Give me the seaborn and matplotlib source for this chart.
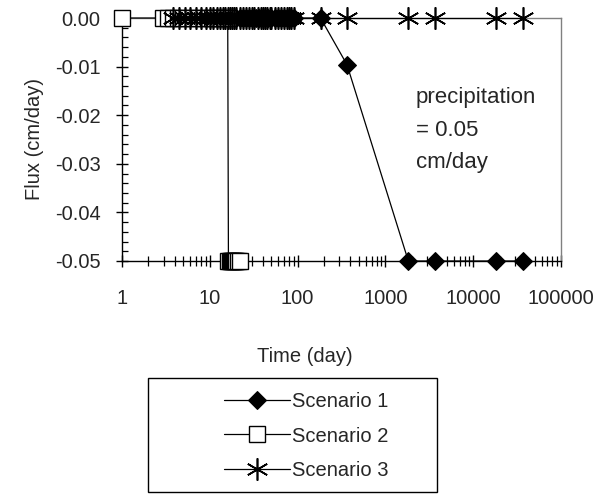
import matplotlib
matplotlib.use("Agg")
import matplotlib.pyplot as plt
from matplotlib.patches import Rectangle
from matplotlib.ticker import FixedLocator, FuncFormatter, LogLocator, NullFormatter, MultipleLocator
import seaborn as sns
import pandas as pd

# ---- data ----
s1_time = [20, 22, 24, 26, 28, 30, 32, 34, 36, 38, 40, 43, 46, 50, 55, 60, 65, 70, 75, 80, 85, 90,
           182.5, 365, 1825, 3650, 18250, 36500]
s1_flux = [0.0] * 23 + [-0.0096, -0.05, -0.05, -0.05, -0.05]

s2_time = [1, 2.9, 3.3, 3.8, 4.3, 5, 5.7, 6.5, 7.5, 8.5, 9.5, 10.5, 11.5, 12.5, 13.5, 14.5, 16.0,
           16.3, 17, 17.5, 18, 18.5, 19, 19.5, 20, 21, 22]
s2_flux = [0.0] * 17 + [-0.05] * 10

s3_time = [3.8, 4.5, 5.2, 6, 7, 8, 9, 10, 11, 12, 13, 14, 15, 16, 17, 18, 19, 20, 22, 24, 26, 28,
           30, 32, 35, 38, 40, 42, 45, 48, 50, 55, 60, 65, 70, 75, 80, 85, 90,
           182.5, 365, 1825, 3650, 18250, 36500]
s3_flux = [0.0] * len(s3_time)

labels = ["Scenario 1", "Scenario 2", "Scenario 3"]
x_ticks = [1, 10, 100, 1000, 10000, 100000]
y_ticks = [0.00, -0.01, -0.02, -0.03, -0.04, -0.05]
note = "precipitation\n= 0.05\ncm/day"

sns.set_theme(style="white")
plt.rcParams["font.family"] = ["Liberation Sans", "DejaVu Sans"]
plt.rcParams["axes.unicode_minus"] = False

FS = 14.5
W, H = 605, 497
fig = plt.figure(figsize=(W / 100, H / 100), dpi=100)
ax = fig.add_axes([122 / W, 1 - 261 / H, (561 - 122) / W, (261 - 18) / H])

asterisk = (6, 2, 0)
d1 = pd.DataFrame({"t": s1_time, "f": s1_flux})
d2 = pd.DataFrame({"t": s2_time, "f": s2_flux})
d3 = pd.DataFrame({"t": s3_time, "f": s3_flux})

sns.lineplot(data=d1, x="t", y="f", ax=ax, color="black", lw=0.9, marker="D", markersize=9,
             markerfacecolor="black", markeredgecolor="black", estimator=None, sort=False,
             label=labels[0], clip_on=False, zorder=3)
sns.lineplot(data=d2, x="t", y="f", ax=ax, color="black", lw=0.9, marker="s", markersize=12,
             markerfacecolor="white", markeredgecolor="black", markeredgewidth=1.0, estimator=None,
             sort=False, label=labels[1], clip_on=False, zorder=4)
sns.lineplot(data=d3, x="t", y="f", ax=ax, color="black", lw=0.9, marker=asterisk, markersize=16,
             markeredgecolor="black", markeredgewidth=1.2, estimator=None, sort=False,
             label=labels[2], clip_on=False, zorder=5)

ax.set_xscale("log")
ax.set_xlim(1, 100000)
ax.set_ylim(-0.05, 0.0)

ax.xaxis.set_major_locator(FixedLocator(x_ticks))
ax.xaxis.set_major_formatter(FuncFormatter(lambda v, p: f"{v:g}" if v < 1e5 else "100000"))
ax.xaxis.set_minor_locator(LogLocator(base=10, subs=range(2, 10), numticks=20))
ax.xaxis.set_minor_formatter(NullFormatter())
ax.yaxis.set_major_locator(FixedLocator(y_ticks))
ax.yaxis.set_major_formatter(FuncFormatter(lambda v, p: f"{v:.2f}" if abs(v) > 1e-9 else "0.00"))
ax.yaxis.set_minor_locator(MultipleLocator(0.002))

ax.tick_params(axis="x", which="major", direction="inout", length=9, width=1, color="black",
               labelsize=FS, pad=16, bottom=True)
ax.tick_params(axis="x", which="minor", direction="inout", length=7, width=0.9, color="black",
               bottom=True)
ax.tick_params(axis="y", which="major", direction="inout", length=9, width=1, color="black",
               labelsize=FS, pad=11, left=True)
ax.tick_params(axis="y", which="minor", direction="in", length=4.5, width=0.9, color="black",
               left=True)

for side in ["left", "bottom"]:
    ax.spines[side].set_color("black")
    ax.spines[side].set_linewidth(1.0)
for side in ["top", "right"]:
    ax.spines[side].set_color("#808080")
    ax.spines[side].set_linewidth(1.0)

ax.set_xlabel("Time (day)", fontsize=FS, va="center")
ax.xaxis.set_label_coords((305 - 122) / 439, (261 - 357) / 243)
ax.set_ylabel("Flux (cm/day)", fontsize=FS, va="center")
ax.yaxis.set_label_coords((35 - 122) / 439, 0.5)

ax.text((416 - 122) / 439, (261 - 130) / 243, note, transform=ax.transAxes, fontsize=16,
        ha="left", va="center", linespacing=1.72)

handles, labs = ax.get_legend_handles_labels()
ax.get_legend().remove()
fig.legend(handles, labs, loc="center", bbox_to_anchor=(306 / W, 1 - 436 / H), frameon=False,
           fontsize=FS, handlelength=3.3, handletextpad=0.1, labelspacing=0.75)
fig.patches.append(Rectangle((148 / W, 1 - 492 / H), 289 / W, 114 / H, transform=fig.transFigure,
                             fill=False, edgecolor="black", linewidth=1.0))

fig.savefig("out.png", dpi=100)
